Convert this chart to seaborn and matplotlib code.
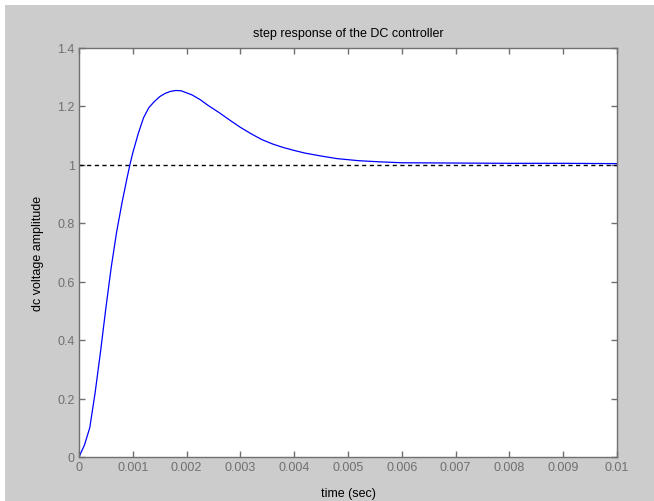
import numpy as np
import pandas as pd
import seaborn as sns
import matplotlib.pyplot as plt
from matplotlib.patches import Rectangle

# step response
t = [0.0, 0.0001, 0.0002, 0.0003, 0.0004, 0.0005, 0.0006, 0.0007, 0.0008, 0.0009,
     0.00095, 0.001, 0.0011, 0.0012, 0.0013, 0.0014, 0.0015, 0.0016, 0.0017, 0.0018,
     0.0019, 0.0021, 0.00225, 0.0024, 0.0026, 0.0028, 0.003, 0.0032, 0.0034, 0.0036,
     0.0038, 0.004, 0.0042, 0.0045, 0.0048, 0.0052, 0.0056, 0.006, 0.007, 0.008,
     0.009, 0.01]
v = [0.0, 0.04, 0.10, 0.22, 0.36, 0.51, 0.65, 0.77, 0.87, 0.96,
     1.002, 1.04, 1.105, 1.16, 1.195, 1.215, 1.232, 1.243, 1.25, 1.253,
     1.252, 1.238, 1.222, 1.202, 1.178, 1.152, 1.127, 1.105, 1.085, 1.07,
     1.058, 1.048, 1.039, 1.029, 1.02, 1.013, 1.009, 1.006, 1.005, 1.004,
     1.004, 1.003]
reference = 1.0

df = pd.DataFrame({"time": t, "amplitude": v})

sns.set_theme(style="white")
plt.rcParams['font.family'] = ['Liberation Sans', 'DejaVu Sans']

fig = plt.figure(figsize=(6.54, 5.02), dpi=100)
fig.patch.set_facecolor("white")
fig.patches.append(Rectangle((5 / 654, 0), 1, (502 - 6) / 502, transform=fig.transFigure,
                             facecolor="#cccccc", edgecolor="none", zorder=-1))
ax = fig.add_axes([79 / 654, (502 - 458) / 502, (617 - 79) / 654, (458 - 48.5) / 502])
ax.set_facecolor("white")

ax.axhline(reference, color="black", lw=1.0, ls=(0, (3, 2.5)), zorder=1)
sns.lineplot(data=df, x="time", y="amplitude", color="#0000ff", lw=0.9, ax=ax, zorder=2)

ax.set_xlim(0, 0.01)
ax.set_ylim(0, 1.4)
ax.set_xticks(np.arange(0, 0.0101, 0.001))
ax.set_xticklabels(["0", "0.001", "0.002", "0.003", "0.004", "0.005", "0.006",
                    "0.007", "0.008", "0.009", "0.01"])
ax.set_yticks(np.arange(0, 1.41, 0.2))
ax.set_yticklabels(["0", "0.2", "0.4", "0.6", "0.8", "1", "1.2", "1.4"])

for s in ax.spines.values():
    s.set_visible(True)
    s.set_color("#707070")
    s.set_linewidth(1.0)
ax.tick_params(direction="in", length=4, width=1, color="#707070", labelcolor="#707070",
               labelsize=9, top=True, right=True, left=True, bottom=True, pad=3)

ax.set_title("step response of the DC controller", fontsize=9, color="black", pad=8)
ax.set_xlabel("time (sec)", fontsize=9, color="black", labelpad=10)
ax.set_ylabel("dc voltage amplitude", fontsize=9, color="black", labelpad=10)

fig.savefig("out.png", dpi=100)
